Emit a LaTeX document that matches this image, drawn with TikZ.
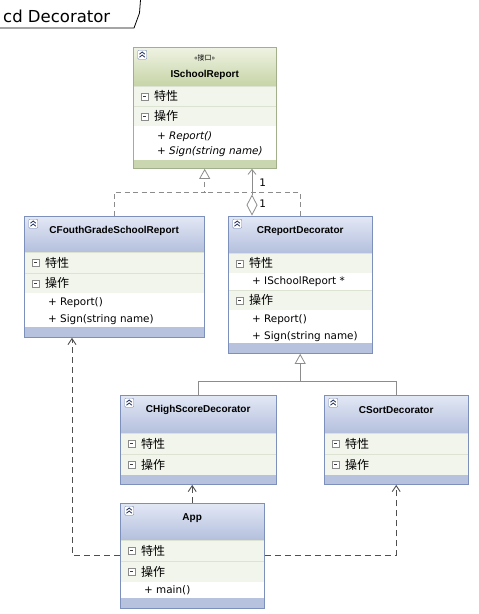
\documentclass[tikz,border=0pt]{standalone}
\usepackage{fontspec}
\setmainfont{DejaVu Sans}
\newfontfamily\cjk{Noto Sans CJK SC}
\newfontfamily\namefont{Liberation Sans}
\usepackage[usenames,dvipsnames]{xcolor}
\usepackage{tikz}
\usetikzlibrary{arrows.meta, positioning, fit}

\definecolor{headtop}{HTML}{E3E8F5}
\definecolor{headbot}{HTML}{B3BFDD}
\definecolor{frameline}{HTML}{7D8FBB}
\definecolor{bandfill}{HTML}{B7C2DE}
\definecolor{iheadtop}{HTML}{EFF3E3}
\definecolor{iheadbot}{HTML}{C6D4A6}
\definecolor{iframeline}{HTML}{A2AF8B}
\definecolor{ibandfill}{HTML}{C9D6AF}
\definecolor{rowfill}{HTML}{F2F5EC}
\definecolor{rowline}{HTML}{DDE3D3}
\definecolor{iconline}{HTML}{6F83B3}
\definecolor{icondark}{HTML}{1F2E5E}
\definecolor{minusline}{HTML}{8A8A8A}
\definecolor{minusdark}{HTML}{3A3A3A}
\definecolor{lineg}{HTML}{8C8C8C}
\definecolor{lined}{HTML}{4F4F4F}

\begin{document}
\begin{tikzpicture}[
    x=1pt, y=-1pt,
    head/.style={rectangle, anchor=north west, inner sep=0, top color=headtop, bottom color=headbot,
        path picture={
            \draw[draw=iconline, fill=white, rounded corners=1pt] ([shift={(4.5pt,-3pt)}]path picture bounding box.north west) rectangle ++(9pt,-9pt);
            \draw[draw=icondark, line width=0.8pt] ([shift={(6.3pt,-7pt)}]path picture bounding box.north west) -- ++(2.7pt,2.2pt) -- ++(2.7pt,-2.2pt)
                ([shift={(6.3pt,-10pt)}]path picture bounding box.north west) -- ++(2.7pt,2.2pt) -- ++(2.7pt,-2.2pt);
        }},
    ihead/.style={head, top color=iheadtop, bottom color=iheadbot},
    titlerow/.style={rectangle, anchor=north west, inner sep=0, fill=rowfill, draw=rowline, minimum height=21,
        path picture={
            \draw[draw=minusline, fill=white] ([shift={(8pt,-3.5pt)}]path picture bounding box.west) rectangle ++(7pt,7pt);
            \draw[draw=minusdark, line width=0.8pt] ([shift={(9.8pt,0pt)}]path picture bounding box.west) -- ++(3.4pt,0pt);
        }},
    itembox/.style={rectangle, anchor=north west, inner sep=0, fill=white},
    band/.style={rectangle, anchor=north west, inner sep=0, fill=bandfill},
    iband/.style={band, fill=ibandfill},
    frame/.style={rectangle, draw=frameline, line width=0.9pt, inner sep=0},
    iframe/.style={frame, draw=iframeline},
    clsname/.style={font=\namefont\bfseries\fontsize{10}{12}\selectfont, inner sep=0},
    stereo/.style={font=\cjk\fontsize{7}{8}\selectfont, inner sep=0},
    rowtext/.style={font=\cjk\fontsize{12}{14}\selectfont, inner sep=0},
    item/.style={font=\fontsize{10.4}{12}\selectfont, anchor=west, inner sep=0},
    italitem/.style={item, font=\fontsize{10.4}{12}\selectfont\itshape},
    mult/.style={font=\fontsize{10.4}{12}\selectfont, inner sep=0},
    realize/.style={draw=lineg, line width=0.8pt, dash pattern=on 5pt off 3.5pt},
    general/.style={draw=lineg, line width=0.8pt},
    aggr/.style={draw=lineg, line width=0.8pt, {Diamond[open, length=21pt, width=11pt]}-{Straight Barb[length=5pt, width=8pt]}},
    depend/.style={draw=lined, line width=0.9pt, dash pattern=on 6pt off 4pt, -{Straight Barb[length=6pt, width=8pt]}}
]
\useasboundingbox (0,0) rectangle (479,614);

% diagram tab
\node[font=\fontsize{16.5}{18}\selectfont, anchor=base west, inner sep=0] (title) at (3,22) {cd Decorator};
\draw[line width=0.8pt] (0,28) -- (134,28) -- (139.5,13) -- (140.5,0);

% ISchoolReport
\node[ihead, minimum width=143, minimum height=39] (is-head) at (133,47) {};
\node[stereo] at ([yshift=-11pt]is-head.north) {«接口»};
\node[clsname] at ([yshift=-28pt]is-head.north) {ISchoolReport};
\node[titlerow, minimum width=143, minimum height=20] (is-attr) at (133,86) {};
\node[rowtext, right=21pt of is-attr.west] {特性};
\node[titlerow, minimum width=143, minimum height=20] (is-ops) at (133,106) {};
\node[rowtext, right=21pt of is-ops.west] {操作};
\node[itembox, minimum width=143, minimum height=34] (is-items) at (133,126) {};
\node[italitem] at (157,137) {+ Report()};
\node[italitem] at (157,152) {+ Sign(string name)};
\node[iband, minimum width=143, minimum height=8] (is-band) at (133,160) {};
\node[iframe, fit=(is-head)(is-band)] (is) {};

% CFouthGradeSchoolReport
\node[head, minimum width=180, minimum height=36] (cf-head) at (24,216) {};
\node[clsname] at ([yshift=-15pt]cf-head.north) {CFouthGradeSchoolReport};
\node[titlerow, minimum width=180] (cf-attr) at (24,252) {};
\node[rowtext, right=21pt of cf-attr.west] {特性};
\node[titlerow, minimum width=180, minimum height=20] (cf-ops) at (24,273) {};
\node[rowtext, right=21pt of cf-ops.west] {操作};
\node[itembox, minimum width=180, minimum height=34] (cf-items) at (24,293) {};
\node[item] at (48,303) {+ Report()};
\node[item] at (48,320) {+ Sign(string name)};
\node[band, minimum width=180, minimum height=10] (cf-band) at (24,327) {};
\node[frame, fit=(cf-head)(cf-band)] (cfouth) {};

% CReportDecorator
\node[head, minimum width=144, minimum height=37] (crd-head) at (228,216) {};
\node[clsname] at ([yshift=-15pt]crd-head.north) {CReportDecorator};
\node[titlerow, minimum width=144, minimum height=20] (crd-attr) at (228,253) {};
\node[rowtext, right=21pt of crd-attr.west] {特性};
\node[itembox, minimum width=144, minimum height=17] (crd-attritems) at (228,273) {};
\node[item] at (252,282) {+ ISchoolReport *};
\node[titlerow, minimum width=144, minimum height=20] (crd-ops) at (228,290) {};
\node[rowtext, right=21pt of crd-ops.west] {操作};
\node[itembox, minimum width=144, minimum height=33] (crd-items) at (228,310) {};
\node[item] at (252,320) {+ Report()};
\node[item] at (252,337) {+ Sign(string name)};
\node[band, minimum width=144, minimum height=10] (crd-band) at (228,343) {};
\node[frame, fit=(crd-head)(crd-band)] (crd) {};

% CHighScoreDecorator
\node[head, minimum width=156, minimum height=38] (chs-head) at (120,395) {};
\node[clsname] at ([yshift=-15pt]chs-head.north) {CHighScoreDecorator};
\node[titlerow, minimum width=156] (chs-attr) at (120,433) {};
\node[rowtext, right=21pt of chs-attr.west] {特性};
\node[titlerow, minimum width=156] (chs-ops) at (120,454) {};
\node[rowtext, right=21pt of chs-ops.west] {操作};
\node[band, minimum width=156, minimum height=9] (chs-band) at (120,475) {};
\node[frame, fit=(chs-head)(chs-band)] (chs) {};

% CSortDecorator
\node[head, minimum width=144, minimum height=38] (cs-head) at (324,395) {};
\node[clsname] at ([yshift=-15pt]cs-head.north) {CSortDecorator};
\node[titlerow, minimum width=144] (cs-attr) at (324,433) {};
\node[rowtext, right=21pt of cs-attr.west] {特性};
\node[titlerow, minimum width=144] (cs-ops) at (324,454) {};
\node[rowtext, right=21pt of cs-ops.west] {操作};
\node[band, minimum width=144, minimum height=9] (cs-band) at (324,475) {};
\node[frame, fit=(cs-head)(cs-band)] (csort) {};

% App
\node[head, minimum width=144, minimum height=37] (app-head) at (120,503) {};
\node[clsname] at ([yshift=-15pt]app-head.north) {App};
\node[titlerow, minimum width=144] (app-attr) at (120,540) {};
\node[rowtext, right=21pt of app-attr.west] {特性};
\node[titlerow, minimum width=144] (app-ops) at (120,561) {};
\node[rowtext, right=21pt of app-ops.west] {操作};
\node[itembox, minimum width=144, minimum height=16] (app-items) at (120,582) {};
\node[item] at (144,590) {+ main()};
\node[band, minimum width=144, minimum height=10] (app-band) at (120,598) {};
\node[frame, fit=(app-head)(app-band)] (app) {};

% connectors
\coordinate (isjoin) at (is.south |- 0,192);
\coordinate (crdjoin) at (crd.south |- 0,381);
\draw[realize, -{Triangle[open, length=10pt, width=11pt]}] (cfouth.north) |- (isjoin) -- (is.south);
\draw[realize] (crd.north) |- (isjoin);
\draw[aggr] (252,0 |- crd.north) -- node[mult, pos=0.25, right=7pt] {1} node[mult, pos=0.7, right=7pt] {1} (252,0 |- is.south);
\draw[general, -{Triangle[open, length=10pt, width=11pt]}] (chs.north) |- (crdjoin) -- (crd.south);
\draw[general] (csort.north) |- (crdjoin);
\draw[depend] (app.north) -- (app.north |- chs.south);
\draw[depend] (0,555 -| app.west) -| (72,0 |- cfouth.south);
\draw[depend] (0,555 -| app.east) -| (csort.south);
\end{tikzpicture}
\end{document}
